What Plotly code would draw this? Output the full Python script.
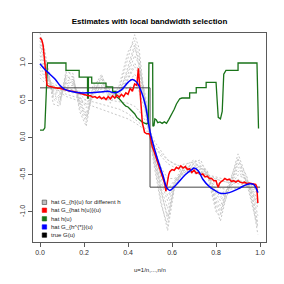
import plotly.graph_objects as go

# ---------------- data ----------------
u_grey = [0.00, 0.02, 0.04, 0.06, 0.09, 0.12, 0.15, 0.18, 0.21, 0.24, 0.28, 0.32, 0.36, 0.40, 0.43,
          0.45, 0.48, 0.50, 0.52, 0.55, 0.58, 0.61, 0.65, 0.70, 0.73, 0.76, 0.80, 0.82, 0.85, 0.90,
          0.94, 0.97, 0.99]
grey_a = [0.95, 0.85, 0.78, 0.72, 0.68, 0.66, 0.64, 0.62, 0.60, 0.60, 0.60, 0.60, 0.62, 0.66, 0.70,
          0.62, 0.35, 0.10, -0.15, -0.40, -0.55, -0.55, -0.50, -0.45, -0.45, -0.52, -0.62, -0.68, -0.70, -0.68,
          -0.66, -0.68, -0.72]
grey_b = [1.15, 1.00, 0.80, 0.62, 0.55, 0.72, 0.75, 0.55, 0.40, 0.60, 0.70, 0.58, 0.60, 0.80, 1.00,
          0.90, 0.50, 0.05, -0.25, -0.60, -0.85, -0.60, -0.45, -0.38, -0.40, -0.50, -0.75, -0.85, -0.70, -0.45,
          -0.60, -0.75, -0.95]
grey_c = [1.30, 1.10, 0.82, 0.55, 0.48, 0.80, 0.82, 0.45, 0.25, 0.62, 0.78, 0.55, 0.62, 0.90, 1.20,
          1.05, 0.45, 0.02, -0.30, -0.75, -1.05, -0.65, -0.42, -0.35, -0.38, -0.48, -0.85, -0.98, -0.72, -0.35,
          -0.58, -0.85, -1.15]
grey_d = [1.40, 1.20, 0.85, 0.45, 0.42, 0.88, 0.86, 0.35, 0.15, 0.65, 0.85, 0.50, 0.65, 1.05, 1.38,
          1.20, 0.40, 0.00, -0.35, -0.85, -1.25, -0.70, -0.40, -0.30, -0.35, -0.45, -0.95, -1.12, -0.75, -0.22,
          -0.55, -0.95, -1.30]
grey_e = [0.85, 0.78, 0.72, 0.68, 0.62, 0.58, 0.55, 0.52, 0.50, 0.48, 0.45, 0.42, 0.38, 0.32, 0.25,
          0.20, 0.12, 0.05, -0.10, -0.25, -0.35, -0.40, -0.44, -0.48, -0.50, -0.53, -0.56, -0.58, -0.60, -0.62,
          -0.65, -0.70, -0.75]
grey_f = [1.22, 1.05, 0.80, 0.58, 0.50, 0.76, 0.78, 0.50, 0.32, 0.61, 0.74, 0.56, 0.61, 0.85, 1.10,
          0.98, 0.48, 0.03, -0.28, -0.68, -0.95, -0.62, -0.43, -0.36, -0.39, -0.49, -0.80, -0.92, -0.71, -0.40,
          -0.59, -0.80, -1.05]
grey_g = [1.05, 0.92, 0.79, 0.67, 0.62, 0.69, 0.70, 0.58, 0.50, 0.60, 0.65, 0.59, 0.61, 0.73, 0.85,
          0.76, 0.42, 0.07, -0.20, -0.50, -0.70, -0.58, -0.48, -0.42, -0.43, -0.51, -0.68, -0.76, -0.70, -0.56,
          -0.63, -0.72, -0.85]
grey_h = [0.90, 0.82, 0.75, 0.70, 0.64, 0.62, 0.60, 0.57, 0.55, 0.54, 0.52, 0.50, 0.48, 0.46, 0.42,
          0.36, 0.22, 0.08, -0.05, -0.18, -0.30, -0.35, -0.40, -0.43, -0.46, -0.50, -0.55, -0.58, -0.60, -0.60,
          -0.62, -0.66, -0.72]
grey_i = [1.35, 1.15, 0.88, 0.52, 0.45, 0.92, 0.80, 0.40, 0.20, 0.70, 0.80, 0.46, 0.70, 1.15, 1.30,
          1.10, 0.30, -0.02, -0.40, -0.90, -1.18, -0.62, -0.36, -0.33, -0.30, -0.50, -1.00, -1.05, -0.68, -0.28,
          -0.62, -1.00, -1.22]
grey_j = [1.25, 1.08, 0.76, 0.60, 0.52, 0.84, 0.74, 0.48, 0.28, 0.56, 0.82, 0.62, 0.56, 0.95, 1.25,
          0.95, 0.55, 0.04, -0.22, -0.70, -1.10, -0.68, -0.46, -0.32, -0.42, -0.44, -0.90, -1.02, -0.78, -0.30,
          -0.52, -0.90, -1.20]
grey_k = [1.10, 0.96, 0.83, 0.64, 0.58, 0.74, 0.72, 0.52, 0.45, 0.58, 0.68, 0.60, 0.58, 0.78, 0.95,
          0.86, 0.46, 0.06, -0.18, -0.55, -0.78, -0.64, -0.47, -0.40, -0.41, -0.47, -0.72, -0.80, -0.73, -0.50,
          -0.57, -0.78, -0.90]
grey_l = [0.80, 0.74, 0.70, 0.66, 0.60, 0.55, 0.52, 0.48, 0.45, 0.42, 0.38, 0.34, 0.30, 0.25, 0.20,
          0.16, 0.10, 0.04, -0.12, -0.22, -0.30, -0.36, -0.40, -0.45, -0.47, -0.50, -0.53, -0.55, -0.57, -0.58,
          -0.60, -0.64, -0.70]
grey_curves = [grey_l, grey_e, grey_h, grey_a, grey_g, grey_k, grey_b, grey_f, grey_j, grey_c, grey_i, grey_d]

u_red = [0.000, 0.008, 0.014, 0.019, 0.024, 0.028, 0.032, 0.04, 0.05, 0.06, 0.07, 0.08, 0.09, 0.10,
         0.11, 0.12, 0.13, 0.14, 0.15, 0.16, 0.17, 0.18, 0.19, 0.20, 0.21, 0.22, 0.23, 0.24, 0.25, 0.26,
         0.27, 0.28, 0.29, 0.30, 0.31, 0.32, 0.33, 0.34, 0.35, 0.36, 0.37, 0.38, 0.39, 0.40, 0.41, 0.42,
         0.43, 0.44, 0.447, 0.452, 0.458, 0.465, 0.475, 0.485, 0.495, 0.50, 0.505, 0.51, 0.52, 0.53, 0.54,
         0.55, 0.56, 0.567, 0.572, 0.578, 0.585, 0.59, 0.60, 0.61, 0.62, 0.63, 0.64, 0.65, 0.66, 0.67,
         0.68, 0.69, 0.70, 0.71, 0.72, 0.73, 0.74, 0.75, 0.76, 0.77, 0.78, 0.79, 0.80, 0.805, 0.81, 0.815,
         0.82, 0.83, 0.84, 0.85, 0.86, 0.87, 0.88, 0.89, 0.90, 0.91, 0.92, 0.93, 0.94, 0.95, 0.96, 0.97,
         0.98, 0.985, 0.99]
g_red = [1.34, 1.31, 1.24, 1.10, 0.92, 0.78, 0.70, 0.69, 0.68, 0.68, 0.67, 0.66, 0.66, 0.65,
         0.64, 0.64, 0.63, 0.62, 0.62, 0.61, 0.60, 0.60, 0.59, 0.58, 0.57, 0.56, 0.56, 0.54, 0.55, 0.53,
         0.55, 0.52, 0.54, 0.51, 0.55, 0.52, 0.56, 0.53, 0.57, 0.54, 0.58, 0.55, 0.60, 0.58, 0.66, 0.62,
         0.72, 0.70, 0.93, 0.74, 0.45, 0.20, 0.07, 0.05, 0.05, 0.03, -0.05, -0.12, -0.20, -0.29, -0.36,
         -0.46, -0.55, -0.62, -0.72, -0.60, -0.50, -0.46, -0.43, -0.44, -0.40, -0.42, -0.38, -0.41, -0.39, -0.43,
         -0.42, -0.47, -0.44, -0.48, -0.47, -0.50, -0.49, -0.53, -0.52, -0.55, -0.55, -0.58, -0.58, -0.63, -0.67, -0.62,
         -0.60, -0.58, -0.55, -0.57, -0.56, -0.59, -0.58, -0.60, -0.58, -0.60, -0.61, -0.60, -0.62, -0.61, -0.62, -0.63,
         -0.63, -0.66, -0.88]

u_hhat = [0.000, 0.015, 0.022, 0.026, 0.030, 0.034, 0.118, 0.118, 0.178, 0.178, 0.216, 0.216, 0.220, 0.220,
          0.235, 0.235, 0.300, 0.300, 0.330, 0.330, 0.345, 0.345, 0.36, 0.37, 0.38, 0.39, 0.40, 0.41, 0.42,
          0.43, 0.44, 0.45, 0.46, 0.47, 0.485, 0.492, 0.495, 0.512, 0.513, 0.518, 0.522, 0.528, 0.535, 0.545,
          0.555, 0.565, 0.575, 0.585, 0.600, 0.610, 0.620, 0.635, 0.645, 0.680, 0.680, 0.710, 0.710, 0.755,
          0.755, 0.800, 0.805, 0.810, 0.820, 0.828, 0.835, 0.845, 0.900, 0.900, 0.986, 0.990, 0.993]
hhat = [0.10, 0.10, 0.13, 0.40, 0.85, 1.00, 1.00, 0.90, 0.90, 0.81, 0.81, 0.53, 0.53, 0.81,
        0.81, 0.73, 0.73, 0.68, 0.68, 0.62, 0.62, 0.55, 0.52, 0.48, 0.45, 0.42, 0.41, 0.38, 0.35,
        0.32, 0.27, 0.24, 0.22, 0.20, 0.18, 0.20, 1.00, 1.00, 0.15, 0.16, 0.25, 0.24, 0.20, 0.21,
        0.19, 0.21, 0.19, 0.24, 0.32, 0.38, 0.45, 0.52, 0.53, 0.53, 0.60, 0.60, 0.67, 0.67,
        0.74, 0.74, 0.50, 0.27, 0.25, 0.35, 0.85, 0.90, 0.90, 1.00, 1.00, 0.40, 0.12]

u_blue = [0.00, 0.02, 0.045, 0.07, 0.09, 0.11, 0.14, 0.18, 0.22, 0.27, 0.31, 0.34, 0.37, 0.40, 0.42,
          0.44, 0.46, 0.48, 0.50, 0.53, 0.56, 0.575, 0.59, 0.62, 0.66, 0.69, 0.70, 0.72, 0.74, 0.77,
          0.80, 0.82, 0.86, 0.90, 0.94, 0.97, 0.985, 0.99]
g_blue = [0.99, 0.92, 0.85, 0.78, 0.70, 0.65, 0.62, 0.60, 0.60, 0.61, 0.62, 0.60, 0.64, 0.74, 0.78,
          0.74, 0.62, 0.42, 0.08, -0.25, -0.52, -0.67, -0.71, -0.63, -0.50, -0.43, -0.41, -0.45, -0.56, -0.66,
          -0.72, -0.75, -0.74, -0.69, -0.63, -0.63, -0.70, -0.74]

u_true = [0.0, 0.5, 1.0]
g_true = [2 / 3, -2 / 3, -2 / 3]

x_ticks = [0.0, 0.2, 0.4, 0.6, 0.8, 1.0]
x_ticklabels = ["0.0", "0.2", "0.4", "0.6", "0.8", "1.0"]
y_ticks = [-1.0, -0.5, 0.0, 0.5, 1.0]
y_ticklabels = ["-1.0", "-0.5", "0.0", "0.5", "1.0"]

legend_labels = ["hat G_{h}(u) for different h", "hat G_{hat h(u)}(u)", "hat h(u)",
                 "hat G_{h^{*}}(u)", "true G(u)"]
legend_colors = ["rgb(190,190,190)", "#ff0000", "rgb(25,115,25)", "#0000ff", "#000000"]

# ---------------- figure ----------------
# The page body has an 8px default margin, so the figure is 8px smaller and margins are
# reduced by 8px on the top/left to land the plot box where the reference has it.
FONT = "Liberation Sans, Arial, Helvetica, sans-serif"
fig = go.Figure()

for gc in grey_curves:
    fig.add_trace(go.Scatter(x=u_grey, y=gc, mode="lines", showlegend=False, hoverinfo="skip",
                             line=dict(color="rgb(200,200,200)", width=1, dash="2px,2px")))

fig.add_trace(go.Scatter(x=u_true, y=g_true, mode="lines", showlegend=False, line_shape="hv",
                         line=dict(color="rgb(70,70,70)", width=1)))
fig.add_trace(go.Scatter(x=u_hhat, y=hhat, mode="lines", showlegend=False,
                         line=dict(color=legend_colors[2], width=1.3)))
fig.add_trace(go.Scatter(x=u_red, y=g_red, mode="lines", showlegend=False,
                         line=dict(color=legend_colors[1], width=1.5)))
fig.add_trace(go.Scatter(x=u_blue, y=g_blue, mode="lines", showlegend=False, line_shape="spline",
                         line=dict(color=legend_colors[3], width=1.5)))

# manual compact legend (R style filled squares)
leg_y = [0.190, 0.152, 0.111, 0.072, 0.033]
sq_x, txt_x, hx, hy = 0.049, 0.070, 0.0095, 0.0105
for lab, col, yy in zip(legend_labels, legend_colors, leg_y):
    fig.add_shape(type="rect", xref="paper", yref="paper", x0=sq_x - hx, x1=sq_x + hx,
                  y0=yy - hy, y1=yy + hy, fillcolor=col,
                  line=dict(color="rgb(60,60,60)" if col.startswith("rgb(190") else col, width=0.6))
    fig.add_annotation(xref="paper", yref="paper", x=txt_x, y=yy, text=lab, showarrow=False,
                       xanchor="left", yanchor="middle", font=dict(family=FONT, size=6, color="#222"))

fig.add_annotation(xref="paper", yref="paper", x=0.5, y=-0.135, text="u=1/n,...,n/n", showarrow=False,
                   xanchor="center", yanchor="middle", font=dict(family=FONT, size=6, color="#222"))

fig.update_layout(
    width=276, height=276,
    margin=dict(l=25, r=18, t=25, b=42, autoexpand=False),
    paper_bgcolor="white", plot_bgcolor="white",
    showlegend=False,
    title=dict(text="<b>Estimates with local bandwidth selection</b>", x=(149.5 - 8) / 276, xanchor="center",
               y=1 - 13.5 / 276, yanchor="middle", yref="container",
               font=dict(family=FONT, size=8, color="black")),
    font=dict(family=FONT, size=7, color="#222"),
)
fig.update_xaxes(range=[-0.0318, 1.027], tickvals=x_ticks, ticktext=x_ticklabels, automargin=False,
                 showgrid=False, zeroline=False, showline=True, mirror=True,
                 linecolor="rgb(90,90,90)", linewidth=1, ticks="outside", ticklen=4,
                 tickcolor="rgb(90,90,90)", tickfont=dict(size=7, family=FONT, color="#333"))
fig.update_yaxes(range=[-1.403, 1.403], tickvals=y_ticks, ticktext=y_ticklabels, tickangle=-90,
                 automargin=False,
                 showgrid=False, zeroline=False, showline=True, mirror=True,
                 linecolor="rgb(90,90,90)", linewidth=1, ticks="outside", ticklen=4,
                 tickcolor="rgb(90,90,90)", tickfont=dict(size=7, family=FONT, color="#333"))

fig.write_html("out.html")
